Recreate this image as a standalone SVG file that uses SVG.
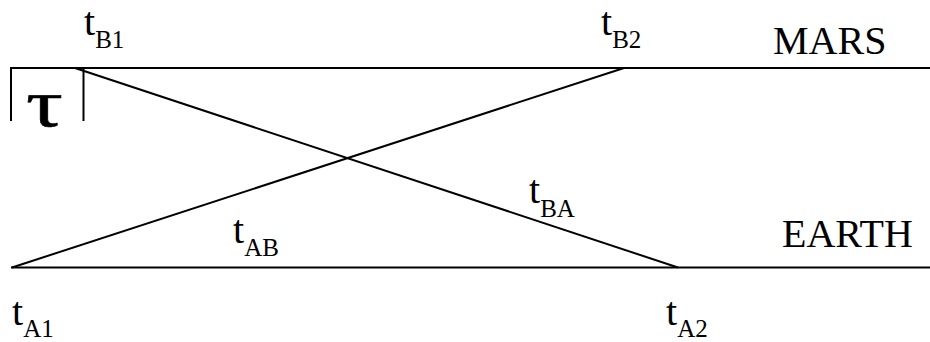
<svg xmlns="http://www.w3.org/2000/svg" width="930" height="342" viewBox="0 0 930 342">
<style>
.ln{stroke:#000;stroke-width:2;fill:none}
.t{font-family:"Liberation Serif","Times New Roman",serif;font-size:40px;fill:#000}
.s{font-size:25px}
</style>
<rect width="930" height="342" fill="#fff"/>
<g id="mars">
<path class="ln" d="M11,121 V68 H930"/>
<text class="t" x="773" y="54">MARS</text>
</g>
<g id="earth">
<line class="ln" x1="11" y1="267.5" x2="930" y2="267.5"/>
<text class="t" x="782" y="247">EARTH</text>
</g>
<g id="tau">
<line class="ln" x1="83.5" y1="68" x2="83.5" y2="121"/>
<text class="t" transform="translate(26,126) scale(1.35,1)" x="0" y="0" style="font-size:68px;stroke:#000;stroke-width:0.6">τ</text>
</g>
<g id="connectors">
<line class="ln" x1="75" y1="68" x2="678" y2="267.5"/>
<line class="ln" x1="12" y1="267.5" x2="624" y2="68"/>
</g>
<g id="tB1"><text class="t" x="84" y="35">t<tspan class="s" dy="13">B1</tspan></text></g>
<g id="tB2"><text class="t" x="601" y="35">t<tspan class="s" dy="13">B2</tspan></text></g>
<g id="tA1"><text class="t" x="12" y="325">t<tspan class="s" dy="12">A1</tspan></text></g>
<g id="tA2"><text class="t" x="666" y="325">t<tspan class="s" dy="12">A2</tspan></text></g>
<g id="tAB"><text class="t" x="233" y="243">t<tspan class="s" dy="13">AB</tspan></text></g>
<g id="tBA"><text class="t" x="529" y="203">t<tspan class="s" dy="14">BA</tspan></text></g>
</svg>
